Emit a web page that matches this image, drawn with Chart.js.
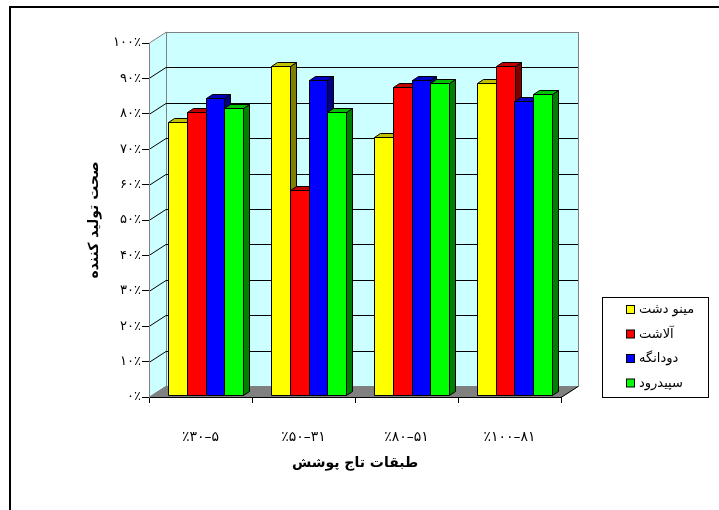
<!DOCTYPE html>
<html>
<head>
<meta charset="utf-8">
<script src="https://cdn.jsdelivr.net/npm/chart.js@4.4.0/dist/chart.umd.min.js"></script>
<style>
    html, body { margin: 0; padding: 0; background: #fff; }
</style>
</head>
<body>
<canvas id="graficoPoshesh" width="719" height="510"></canvas>
<script>
// datos
const categorias = ['٪۳۰–۵', '٪۵۰–۳۱', '٪۸۰–۵۱', '٪۱۰۰–۸۱'];
const etiquetasY = ['۰٪', '۱۰٪', '۲۰٪', '۳۰٪', '۴۰٪', '۵۰٪', '۶۰٪', '۷۰٪', '۸۰٪', '۹۰٪', '۱۰۰٪'];
const series = ['مینو دشت', 'آلاشت', 'دودانگه', 'سپیدرود'];
const minoDasht = [77, 93, 73, 88];
const alasht = [80, 58, 87, 93];
const dodangeh = [84, 89, 89, 83];
const sepidrood = [81, 80, 88, 85];

const colores = [
    { frente: '#ffff00', lado: '#808000', tapa: '#c0c000' },
    { frente: '#ff0000', lado: '#800000', tapa: '#c00000' },
    { frente: '#0000ff', lado: '#000080', tapa: '#0000c0' },
    { frente: '#00ff00', lado: '#008000', tapa: '#00c000' }
];

const pared = { dx: 17, dy: -11 };   // profundidad de las paredes
const desp = { dx: 5, dy: -2 };      // posicion de la cara frontal de las barras
const prof = { dx: 6, dy: -4 };      // profundidad de cada barra

function poligono(ctx, puntos, relleno) {
    ctx.beginPath();
    ctx.moveTo(puntos[0][0], puntos[0][1]);
    for (let i = 1; i < puntos.length; i++) ctx.lineTo(puntos[i][0], puntos[i][1]);
    ctx.closePath();
    if (relleno) {
        ctx.fillStyle = relleno;
        ctx.fill();
    }
    ctx.stroke();
}

const escena3D = {
    id: 'escena3D',
    beforeDraw(chart) {
        const ctx = chart.ctx;
        const { left, right, top, bottom } = chart.chartArea;
        const escalaY = chart.scales.y;
        const dx = pared.dx, dy = pared.dy;
        ctx.save();
        ctx.fillStyle = '#fff';
        ctx.fillRect(0, 0, chart.width, chart.height);
        ctx.strokeStyle = '#000';
        ctx.lineWidth = 2;
        ctx.strokeRect(10, 7, chart.width + 20, chart.height + 20);

        ctx.lineWidth = 1;
        ctx.strokeStyle = '#808080';
        // pared lateral y pared del fondo
        poligono(ctx, [[left + 0.5, bottom], [left + 0.5, top], [left + dx + 0.5, top + dy], [left + dx + 0.5, bottom + dy]], '#ccffff');
        ctx.fillStyle = '#ccffff';
        ctx.fillRect(left + dx, top + dy, right - left, bottom - top);
        ctx.strokeRect(left + dx + 0.5, top + dy + 0.5, right - left, bottom - top);

        // lineas de division
        ctx.strokeStyle = '#000';
        escalaY.ticks.forEach(t => {
            if (t.value === 0 || t.value === 100) return;
            const py = Math.round(escalaY.getPixelForValue(t.value)) + 0.5;
            ctx.beginPath();
            ctx.moveTo(left, py);
            ctx.lineTo(left + dx, py + dy);
            ctx.lineTo(right + dx, py + dy);
            ctx.stroke();
        });

        // piso
        ctx.strokeStyle = '#808080';
        poligono(ctx, [[left, bottom + 0.5], [right, bottom + 0.5], [right + dx, bottom + dy + 0.5], [left + dx, bottom + dy + 0.5]], '#808080');
        ctx.strokeStyle = '#000';
        ctx.beginPath();
        ctx.moveTo(right, bottom + 0.5);
        ctx.lineTo(right + dx, bottom + dy + 0.5);
        ctx.stroke();
        ctx.restore();
    },
    beforeDatasetsDraw(chart) {
        const ctx = chart.ctx;
        ctx.save();
        ctx.translate(desp.dx, desp.dy);
        ctx.lineWidth = 1;
        ctx.strokeStyle = '#000';
        for (let i = 0; i < chart.data.labels.length; i++) {
            chart.data.datasets.forEach((ds, d) => {
                const barra = chart.getDatasetMeta(d).data[i];
                const { x, y, base, width } = barra.getProps(['x', 'y', 'base', 'width'], true);
                const x0 = Math.round(x - width / 2) + 0.5;
                const x1 = Math.round(x + width / 2) + 0.5;
                const y0 = Math.round(y) + 0.5;
                const yb = Math.round(base) + 0.5;
                const c = colores[d];
                poligono(ctx, [[x1, y0], [x1 + prof.dx, y0 + prof.dy], [x1 + prof.dx, yb + prof.dy], [x1, yb]], c.lado);
                poligono(ctx, [[x0, y0], [x0 + prof.dx, y0 + prof.dy], [x1 + prof.dx, y0 + prof.dy], [x1, y0]], c.tapa);
                poligono(ctx, [[x0, y0], [x1, y0], [x1, yb], [x0, yb]], c.frente);
            });
        }
        ctx.restore();
        return false;
    },
    afterDraw(chart) {
        // leyenda con recuadro
        const ctx = chart.ctx;
        ctx.save();
        ctx.strokeStyle = '#000';
        ctx.lineWidth = 1;
        ctx.strokeRect(602.5, 297.5, 106, 100);
        ctx.font = '13px "DejaVu Sans", sans-serif';
        ctx.textBaseline = 'middle';
        ctx.textAlign = 'left';
        chart.data.datasets.forEach((ds, i) => {
            const cy = 310 + i * 24.5;
            ctx.fillStyle = ds.backgroundColor;
            ctx.fillRect(626.5, cy - 4.5, 8, 8);
            ctx.strokeRect(626.5, cy - 4.5, 8, 8);
            ctx.fillStyle = '#000';
            ctx.fillText(ds.label, 639, cy);
        });
        ctx.restore();
    }
};

Chart.defaults.font.family = '"DejaVu Sans", sans-serif';
Chart.defaults.color = '#000';

const datos = {
    labels: categorias,
    datasets: [minoDasht, alasht, dodangeh, sepidrood].map((valores, i) => ({
        label: series[i],
        data: valores,
        backgroundColor: colores[i].frente,
        borderColor: '#000',
        borderWidth: 1
    }))
};

const config = {
    type: 'bar',
    data: datos,
    options: {
        responsive: false,
        animation: false,
        events: [],
        layout: { padding: { left: 10, top: 43, right: 158, bottom: 13 } },
        datasets: { bar: { categoryPercentage: 0.73, barPercentage: 1 } },
        plugins: { legend: { display: false }, tooltip: { enabled: false } },
        scales: {
            x: {
                offset: true,
                grid: { offset: true, drawOnChartArea: false, tickLength: 6, color: '#000' },
                border: { color: '#000' },
                ticks: { padding: 26, font: { size: 14 }, color: '#000' },
                title: { display: true, text: 'طبقات تاج پوشش', font: { size: 14, weight: 'bold' }, padding: { top: 4, bottom: 25 } },
                afterFit: s => { s.height = 100; }
            },
            y: {
                min: 0,
                max: 100,
                ticks: { stepSize: 10, padding: 1, font: { size: 13 }, color: '#000', callback: (v, i) => etiquetasY[i] },
                grid: { drawOnChartArea: false, tickLength: 7, color: '#000' },
                border: { color: '#808080' },
                title: { display: true, text: 'صحت تولید کننده', font: { size: 14, weight: 'bold' }, padding: { top: 76, bottom: 0 } },
                afterFit: s => { s.width = 139; }
            }
        }
    },
    plugins: [escena3D]
};

new Chart(document.getElementById('graficoPoshesh'), config);
</script>
</body>
</html>
